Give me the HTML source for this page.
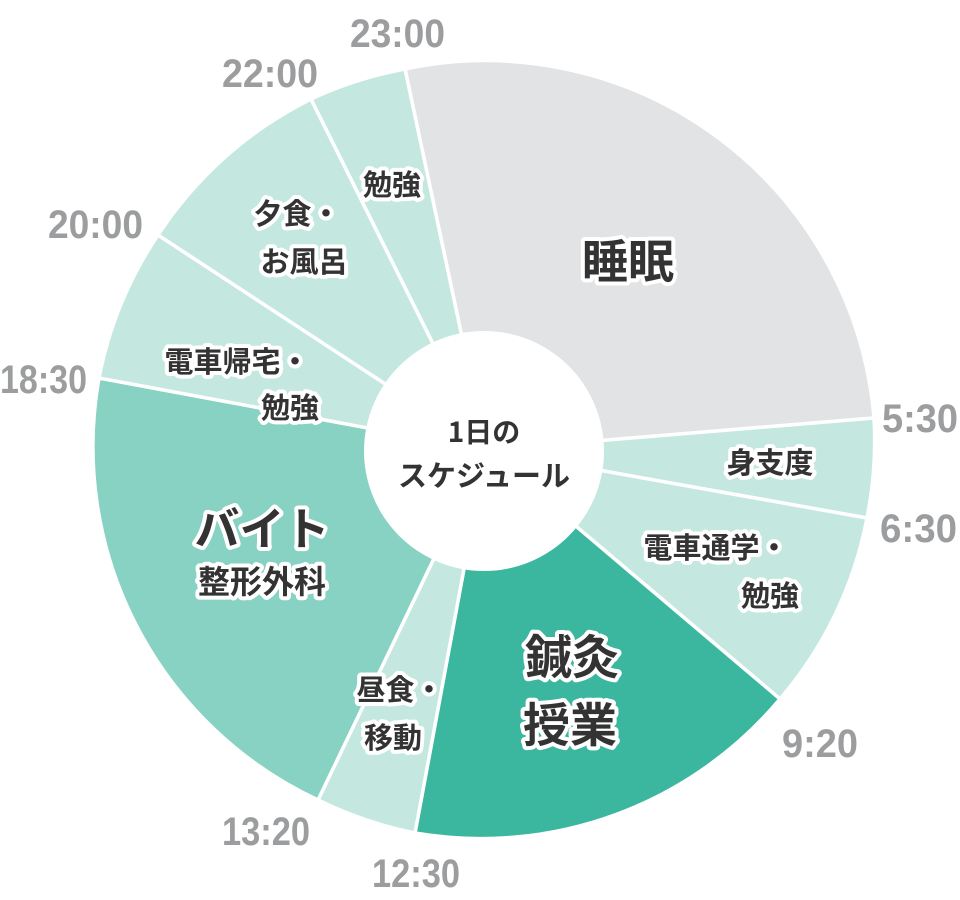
<!DOCTYPE html>
<html><head><meta charset="utf-8"><style>
html,body{margin:0;padding:0;background:#fff;}
svg{display:block}
.t{font-family:"Liberation Sans","Noto Sans CJK JP",sans-serif;fill:#9c9d9f;font-weight:bold;font-size:40px;text-anchor:start}
.l{font-family:"Liberation Sans","Noto Sans CJK JP",sans-serif;fill:#333;font-weight:bold;text-anchor:middle;stroke:#fff;stroke-width:8px;stroke-linejoin:round;paint-order:stroke}
.c{font-family:"Noto Sans CJK JP",sans-serif;fill:#333;font-weight:bold;text-anchor:middle}
</style></head><body>
<svg width="960" height="900" viewBox="0 0 960 900" xmlns="http://www.w3.org/2000/svg">
<g stroke="#fff" stroke-width="3.5" stroke-linejoin="round">
<path d="M486 450 L405 69 A390 390 0 0 1 874 418 Z" fill="#e2e3e5"/>
<path d="M486 450 L874 418 A390 390 0 0 1 867 518 Z" fill="#c4e8df"/>
<path d="M486 450 L867 518 A390 390 0 0 1 780 699 Z" fill="#c4e8df"/>
<path d="M486 450 L780 699 A390 390 0 0 1 415 833 Z" fill="#3bb7a0"/>
<path d="M486 450 L415 833 A390 390 0 0 1 318 800 Z" fill="#c4e8df"/>
<path d="M486 450 L318 800 A390 390 0 0 1 99 378 Z" fill="#88d2c3"/>
<path d="M486 450 L99 378 A390 390 0 0 1 158 235 Z" fill="#c4e8df"/>
<path d="M486 450 L158 235 A390 390 0 0 1 311 99 Z" fill="#c4e8df"/>
<path d="M486 450 L311 99 A390 390 0 0 1 405 69 Z" fill="#c4e8df"/>
</g>
<circle cx="484" cy="451" r="120" fill="#fff"/>
<text class="t" x="350" y="47" textLength="95" lengthAdjust="spacingAndGlyphs">23:00</text>
<text class="t" x="222" y="87" textLength="96" lengthAdjust="spacingAndGlyphs">22:00</text>
<text class="t" x="48" y="238" textLength="95" lengthAdjust="spacingAndGlyphs">20:00</text>
<text class="t" x="0" y="393" textLength="87" lengthAdjust="spacingAndGlyphs">18:30</text>
<text class="t" x="882" y="432" textLength="76" lengthAdjust="spacingAndGlyphs">5:30</text>
<text class="t" x="880" y="542" textLength="77" lengthAdjust="spacingAndGlyphs">6:30</text>
<text class="t" x="782" y="757" textLength="76" lengthAdjust="spacingAndGlyphs">9:20</text>
<text class="t" x="222" y="845" textLength="88" lengthAdjust="spacingAndGlyphs">13:20</text>
<text class="t" x="372" y="887" textLength="88" lengthAdjust="spacingAndGlyphs">12:30</text>
<text class="c" x="484" y="442" font-size="28">1日の</text>
<text class="c" x="484" y="486" font-size="29">スケジュール</text>
<text class="l" x="628" y="278" font-size="46">睡眠</text>
<text class="l" x="770" y="473" font-size="29">身支度</text>
<text class="l" x="716" y="558" font-size="29">電車通学・</text>
<text class="l" x="770" y="606" font-size="29">勉強</text>
<text class="l" x="572" y="674" font-size="47">鍼灸</text>
<text class="l" x="570" y="742" font-size="47">授業</text>
<text class="l" x="400" y="700" font-size="29">昼食・</text>
<text class="l" x="393" y="748" font-size="29">移動</text>
<text class="l" x="262" y="545" font-size="45">バイト</text>
<text class="l" x="262" y="593" font-size="32">整形外科</text>
<text class="l" x="237" y="372" font-size="29">電車帰宅・</text>
<text class="l" x="290" y="418" font-size="29">勉強</text>
<text class="l" x="297" y="224" font-size="29">夕食・</text>
<text class="l" x="304" y="272" font-size="29">お風呂</text>
<text class="l" x="392" y="195" font-size="29">勉強</text>
</svg>
</body></html>
